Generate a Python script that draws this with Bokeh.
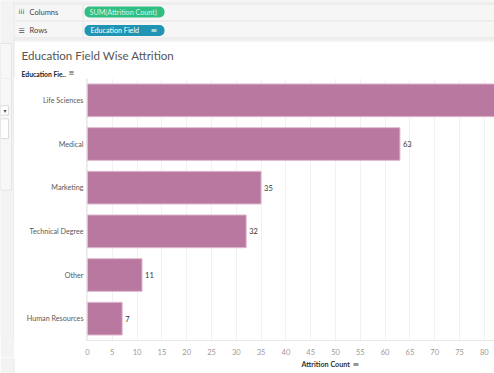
from bokeh.plotting import figure
from bokeh.models import (Range1d, FactorRange, Label, BoxAnnotation, SingleIntervalTicker,
                          ColumnDataSource)
from bokeh.layouts import column, row
from bokeh.embed import file_html
from bokeh.resources import INLINE
from bokeh.core.properties import value

# ---- data ----
fields = ["Life Sciences", "Medical", "Marketing", "Technical Degree", "Other", "Human Resources"]
attrition = [89, 63, 35, 32, 11, 7]
tick_step = 5

title_text = "Education Field Wise Attrition"
row_header = "Education Fie.."
x_title = "Attrition Count"
shelf_columns = "SUM(Attrition Count)"
shelf_rows = "Education Field"

FONT = "Lato"
BAR = "#b9789f"
SORT = "\u2261"
X_END = 82.06


def pixel_fig(w, h, x0, y0, bg):
    f = figure(width=w, height=h, x_range=Range1d(x0, x0 + w), y_range=Range1d(y0 + h, y0),
               toolbar_location=None, output_backend="svg", min_border=0)
    f.axis.visible = False
    f.grid.visible = False
    f.outline_line_color = None
    f.background_fill_color = bg
    f.border_fill_color = bg
    return f


def box(f, l, r, t, b, fill, line=None):
    f.add_layout(BoxAnnotation(left=l, right=r, top=t, bottom=b, fill_color=fill, fill_alpha=1,
                               line_color=line, line_alpha=1 if line else 0))


def lab(f, x, y, t, size, color, font=FONT, style="normal", align="left"):
    f.add_layout(Label(x=x, y=y, text=t, text_font=font, text_font_size=size, text_color=color,
                       text_baseline="middle", text_align=align, text_font_style=style))


# ---- top: Tableau shelves + title area (page y 0-78) ----
top = pixel_fig(494, 78, 0, 0, "#f6f6f6")
box(top, 0, 494, 0, 3, "#f2f2f2")
box(top, 0, 494, 3, 4, "#e3e3e3")
box(top, 14, 494, 20, 21, "#e3e3e3")
box(top, 14, 494, 37, 38, "#e3e3e3")
box(top, 14, 494, 39, 40, "#e6e6e6")
box(top, 82, 83, 4, 38, "#e6e6e6")
box(top, 13, 14, 0, 40, "#e6e6e6")
box(top, 0, 13, 0, 78, "#f3f3f3")
box(top, 0, 11, 43, 78, "#f7f7f7", "#e4e4e4")
box(top, 14, 494, 40, 78, "#ffffff")
box(top, 13, 14, 40, 78, "#e4e4e4")
box(top, 14, 494, 40, 41, "#ececec")
lab(top, 18, 11.5, "iii", "7px", "#555555", font="DejaVu Sans")
lab(top, 29, 11.5, "Columns", "7.5px", "#444444")
lab(top, 18, 30, "\u2630", "7px", "#555555", font="DejaVu Sans")
lab(top, 29, 30, "Rows", "7.5px", "#444444")
top.add_layout(BoxAnnotation(left=84, right=164, top=6, bottom=17, fill_color="#2fbf83", fill_alpha=1,
                             line_color=None, border_radius=5))
top.add_layout(BoxAnnotation(left=84, right=164, top=24.5, bottom=35.5, fill_color="#1f95b3",
                             fill_alpha=1, line_color=None, border_radius=5))
lab(top, 89, 11.8, shelf_columns, "7.2px", "#d9f3e7")
lab(top, 90, 30.3, shelf_rows, "7.2px", "#ffffff")
lab(top, 150, 30.3, SORT, "8px", "#ffffff", font="DejaVu Sans")
lab(top, 21, 55, title_text, "11.6px", "#555555")
lab(top, 21, 73, row_header, "6.8px", "#222222", style="bold")
lab(top, 68, 72.5, SORT, "7px", "#444444", font="DejaVu Sans")

# ---- left panel strip (page x 0-14, y 78-357) ----
strip = pixel_fig(14, 279, 0, 78, "#f3f3f3")
box(strip, 0, 11, 78, 197, "#f7f7f7", "#e4e4e4")
box(strip, 0, 8, 107, 117, "#ffffff", "#dcdcdc")
box(strip, 0, 8, 121, 142, "#ffffff", "#dcdcdc")
lab(strip, 3, 112, "\u25be", "6px", "#555555", font="DejaVu Sans")
box(strip, 13, 14, 78, 357, "#e4e4e4")

# ---- main chart (page x 14-494, y 78-357) ----
src = ColumnDataSource(dict(field=fields, n=attrition,
                            lbl=[str(v) if v < X_END else "" for v in attrition]))
p = figure(width=480, height=279, y_range=FactorRange(*reversed(fields)),
           x_range=Range1d(-0.2, X_END), toolbar_location=None, output_backend="svg",
           min_border_left=72, min_border_right=0, min_border_top=0, min_border_bottom=15)
p.outline_line_color = None
p.background_fill_color = "#ffffff"
p.border_fill_color = "#ffffff"

p.hbar(y="field", left=0, right="n", height=0.75, source=src, fill_color=BAR,
       line_color="#e0bcd2", line_width=1)
p.text(x="n", y="field", text="lbl", source=src, x_offset=3, text_baseline="middle",
       text_font=value(FONT), text_font_size="7.5px", text_color="#333333")

p.xaxis.ticker = SingleIntervalTicker(interval=tick_step)
p.xaxis.major_tick_line_color = None
p.xaxis.major_tick_out = 0
p.xaxis.major_tick_in = 0
p.xaxis.minor_tick_line_color = None
p.xaxis.axis_line_color = "#e8e8e8"
p.xaxis.major_label_text_font = FONT
p.xaxis.major_label_text_font_size = "7.5px"
p.xaxis.major_label_text_color = "#999999"
p.xaxis.major_label_standoff = 4

p.yaxis.major_tick_line_color = None
p.yaxis.major_tick_out = 0
p.yaxis.major_tick_in = 0
p.yaxis.minor_tick_line_color = None
p.yaxis.axis_line_color = "#e8e8e8"
p.yaxis.major_label_text_font = FONT
p.yaxis.major_label_text_font_size = "7.2px"
p.yaxis.major_label_text_color = "#5a5a5a"
p.yaxis.major_label_standoff = 3

p.xgrid.ticker = SingleIntervalTicker(interval=tick_step)
p.xgrid.grid_line_color = "#f1f1f1"
p.ygrid.grid_line_color = None

# ---- footer with the axis title (page x 0-494, y 357-373) ----
foot = pixel_fig(494, 16, 0, 357, "#ffffff")
box(foot, 0, 13, 357, 373, "#f3f3f3")
box(foot, 13, 14, 357, 373, "#e4e4e4")
lab(foot, 301, 364, x_title, "7.2px", "#333333", style="bold")
lab(foot, 352, 363.5, SORT, "8px", "#444444", font="DejaVu Sans")

layout = column(top, row(strip, p, spacing=0), foot, spacing=0)
open("out.html", "w").write(file_html(layout, INLINE))
